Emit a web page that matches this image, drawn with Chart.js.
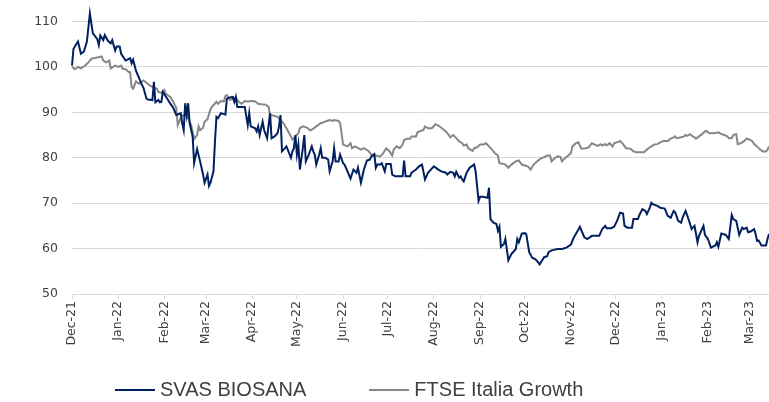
<!DOCTYPE html>
<html>
<head>
<meta charset="utf-8">
<script src="https://cdn.jsdelivr.net/npm/chart.js@4/dist/chart.umd.min.js"></script>
<style>
  body { margin: 0; background: #fff; }
  #wrap { position: relative; width: 769px; height: 402px; }
  #legend { position: absolute; left: 115px; top: 378px; display: flex; align-items: center;
            font-family: "Liberation Sans", Arial, sans-serif; font-size: 20px; color: #404040; }
  .item { display: flex; align-items: center; margin-right: 63px; }
  .swatch { display: inline-block; width: 40px; height: 2px; margin-right: 5px; }
</style>
</head>
<body>
<div id="wrap">
  <canvas id="perfChart" width="769" height="402"></canvas>
  <div id="legend"></div>
</div>
<script>
// month labels and their offset in days from 1 Dec 2021
var monthLabels = ["Dec-21", "Jan-22", "Feb-22", "Mar-22", "Apr-22", "May-22", "Jun-22", "Jul-22",
                   "Aug-22", "Sep-22", "Oct-22", "Nov-22", "Dec-22", "Jan-23", "Feb-23", "Mar-23"];
var monthDays = [0, 31, 62, 90, 121, 151, 182, 212, 243, 274, 304, 335, 365, 396, 427, 455];
var lastDay = 468;

// SVAS BIOSANA, rebased to 100
var bioDays = [0, 1, 4, 6, 8, 10, 12, 14, 17, 18, 19, 21, 22, 24, 26, 27, 29, 30, 32, 33, 36, 39, 40, 41, 43, 45, 47, 48, 50, 51,
  54, 55, 56, 58, 59, 60, 61, 64, 66, 68, 70, 73, 74, 75, 76, 77, 78, 79, 81, 82, 84, 86, 88, 89, 91, 92, 93, 95, 96, 97,
  98, 100, 102, 103, 104, 106, 108, 109, 110, 111, 116, 118, 119, 120, 123, 124, 125, 126, 128, 129, 131, 132, 133, 134, 136, 138, 139, 140, 141, 143,
  144, 147, 148, 149, 150, 151, 152, 153, 155, 156, 157, 159, 161, 162, 163, 164, 166, 167, 168, 170, 172, 173, 175, 176, 177, 179, 180, 182, 183, 185,
  187, 189, 191, 192, 194, 196, 198, 200, 201, 203, 204, 205, 207, 208, 210, 211, 214, 215, 217, 222, 223, 224, 227, 228, 231, 233, 235, 237, 239, 243,
  246, 248, 251, 252, 254, 256, 257, 258, 260, 261, 262, 263, 265, 267, 270, 271, 273, 274, 276, 279, 280, 281, 283, 285, 286, 287, 288, 290, 291, 293,
  295, 298, 299, 300, 302, 304, 305, 307, 309, 311, 313, 314, 317, 319, 320, 322, 326, 329, 332, 335, 337, 339, 341, 344, 346, 349, 354, 356, 358, 359,
  362, 364, 366, 368, 370, 371, 373, 376, 377, 380, 381, 383, 385, 386, 388, 389, 390, 393, 395, 398, 400, 402, 404, 405, 407, 409, 410, 412, 413, 415,
  416, 418, 419, 420, 421, 423, 424, 425, 427, 429, 432, 433, 434, 436, 439, 441, 443, 444, 446, 448, 450, 451, 453, 454, 456, 458, 459, 460, 461, 463,
  466, 467, 468];
var bioValues = [100.3, 104, 105.6, 102.9, 103.4, 105.6, 111.8, 107.4, 106.1, 104.8, 106.9, 105.9, 107, 105.8, 105.2, 105.9, 103.6, 104.5, 104.5, 102.9, 101.4, 101.9, 100.8, 101.6, 99.1, 97.6, 96, 95.4, 93, 92.8,
  92.7, 96.7, 92.2, 92.7, 92.2, 92.3, 94.5, 93, 91.9, 91, 89.4, 89.8, 87.6, 86.1, 92, 89.4, 92, 87.6, 84.7, 78.8, 81.9, 79.2, 76.3, 74.5, 76.3, 73.8, 74.5, 77, 83.6, 89,
  88.7, 89.8, 89.6, 89.5, 93, 93.3, 93.4, 92.3, 93.4, 91.2, 91.2, 87.2, 89.8, 86.9, 86.5, 85.8, 86.9, 85, 87.9, 86.1, 84.3, 87.2, 89.8, 84.3, 84.7, 85.4, 86.9, 89.4, 81.4, 82.1,
  82.5, 80, 81.4, 82.1, 85, 80.7, 82.9, 77.4, 82.1, 85, 79.2, 80.7, 82.5, 81.4, 80.7, 78.5, 80.7, 82.1, 80, 80, 79.6, 77, 79.2, 82.1, 79.2, 79.2, 80.7, 78.8, 78.5, 77,
  75.4, 77.4, 76.7, 77.8, 74.5, 77.4, 79.4, 79.6, 80.3, 80.8, 77.8, 78.5, 78.5, 78.8, 77, 78.6, 78.6, 76.3, 75.9, 75.9, 79.4, 75.9, 75.9, 76.7, 77.4, 78.1, 78.5, 75.2, 76.7, 78.1,
  77.4, 77, 76.7, 76.3, 76.9, 76.7, 75.9, 76.9, 75.6, 75.9, 75.2, 74.8, 76.7, 77.8, 78.5, 77, 70.5, 71.4, 71.4, 71.2, 73.4, 66.5, 65.7, 65.4, 63.9, 64.8, 60.4, 61, 62.1, 57.4,
  58.8, 59.9, 62.1, 61.4, 63.3, 63.4, 63.2, 59.2, 58, 57.7, 57, 56.5, 58.1, 58.3, 59.2, 59.6, 59.9, 59.9, 60.2, 60.9, 62.5, 63.6, 64.8, 62.5, 62.1, 62.8, 62.8, 64.3, 65, 64.5,
  64.5, 64.8, 66.1, 67.9, 67.7, 65, 64.6, 64.6, 66.5, 66.5, 67.4, 68.7, 68.3, 67.6, 69, 70.1, 69.8, 69.4, 69, 68.8, 67.2, 66.8, 68.3, 68, 66.1, 65.7, 66.8, 68.3, 67.4, 65.4,
  64.3, 65, 63.2, 61.4, 62.8, 64.3, 65, 63, 62.1, 60.2, 60.7, 61.4, 60.4, 63.3, 63, 62.1, 67.4, 66.5, 66.1, 63, 64.6, 64.3, 64.6, 63.6, 63.8, 64.3, 63.2, 61.7, 61.8, 60.7,
  60.7, 62.1, 63.2];

// FTSE Italia Growth, rebased to 100
var ftseDays = [0, 2, 4, 6, 9, 11, 13, 16, 20, 21, 23, 25, 26, 29, 31, 33, 34, 36, 38, 39, 40, 41, 43, 45, 48, 50, 52, 54, 57, 58,
  60, 62, 63, 66, 68, 70, 71, 73, 75, 77, 78, 80, 82, 84, 85, 86, 88, 89, 91, 93, 94, 97, 98, 100, 102, 103, 104, 106, 108, 110,
  112, 114, 116, 118, 121, 123, 125, 127, 130, 132, 133, 135, 138, 140, 142, 144, 147, 148, 150, 152, 153, 155, 158, 160, 162, 164, 167, 169, 171, 173,
  175, 176, 179, 180, 181, 182, 185, 187, 188, 190, 194, 196, 199, 201, 204, 207, 209, 211, 213, 215, 216, 218, 220, 222, 223, 225, 227, 228, 231, 232,
  234, 236, 237, 239, 241, 242, 244, 246, 248, 251, 253, 254, 256, 257, 260, 262, 263, 265, 266, 269, 270, 272, 274, 276, 278, 280, 282, 284, 286, 287,
  289, 291, 293, 295, 298, 300, 302, 304, 306, 308, 310, 312, 315, 317, 319, 321, 322, 324, 326, 328, 329, 331, 334, 335, 336, 338, 340, 342, 345, 347,
  349, 351, 353, 355, 356, 358, 359, 361, 363, 364, 366, 368, 370, 372, 375, 377, 379, 382, 384, 386, 388, 391, 393, 395, 397, 400, 402, 404, 405, 406,
  409, 411, 412, 413, 415, 416, 418, 419, 421, 423, 425, 426, 428, 430, 433, 434, 436, 438, 440, 441, 443, 444, 446, 447, 449, 451, 453, 455, 457, 458,
  460, 462, 464, 466, 467, 468];
var ftseValues = [100, 99.5, 100, 99.7, 100.3, 101, 101.8, 102, 102.3, 101.4, 101, 101.4, 99.7, 100.3, 100, 100.3, 99.6, 99.5, 98.9, 98.9, 95.6, 95.2, 96.8, 96.3, 97, 96.5, 96, 95.6, 95.2, 94.5,
  94.3, 94.9, 94.1, 93.4, 92.3, 91, 87.2, 88.8, 89.4, 89.4, 88.7, 87.2, 84.1, 85, 86.9, 86.1, 86.6, 87.9, 88.5, 90.7, 91.2, 92.3, 91.9, 92.5, 92.4, 93.6, 93.8, 92.7, 93, 93.2,
  92.3, 91.9, 92.5, 92.4, 92.5, 92.4, 91.9, 91.8, 91.7, 91.2, 89.4, 89.3, 89, 88.3, 87.6, 86.5, 84.7, 84, 84.7, 85.4, 86.5, 86.9, 86.6, 86, 86.4, 86.9, 87.6, 87.8, 88.1, 88.3,
  88.1, 88.3, 88.1, 87.6, 85.4, 82.9, 82.5, 83.2, 82.1, 82.5, 81.8, 82.1, 81.5, 80.7, 80.5, 80.3, 81, 82.1, 81.5, 80.5, 81.8, 82.5, 82.1, 82.9, 83.9, 84.2, 84.2, 84.7, 84.7, 85.6,
  85.9, 86.1, 86.9, 86.5, 86.5, 86.6, 87.4, 87.1, 86.6, 85.8, 85, 84.5, 85, 84.7, 83.6, 83.2, 82.7, 82.9, 82.1, 81.5, 82.1, 82.3, 82.9, 82.9, 83.2, 82.5, 81.8, 81, 80.5, 78.8,
  78.7, 78.5, 77.8, 78.5, 79.2, 79.4, 78.5, 78.3, 78.1, 77.4, 78.5, 79.1, 79.9, 80.1, 80.5, 80.5, 79.2, 79.9, 80.3, 80.2, 79.2, 79.9, 80.7, 81, 82.5, 83.1, 83.4, 82, 82.1, 82.3,
  83.2, 82.9, 82.6, 83, 82.7, 83, 82.7, 83.2, 82.5, 83.2, 83.4, 83.7, 83, 82.1, 82, 81.4, 81.2, 81.2, 81.2, 81.8, 82.3, 82.9, 83, 83.4, 83.7, 83.7, 84.2, 84.5, 84.7, 84.3,
  84.5, 84.7, 85, 84.8, 85.2, 84.9, 84.5, 84.2, 84.7, 85.2, 85.8, 85.9, 85.4, 85.4, 85.5, 85.6, 85.2, 85, 84.7, 84.3, 84.3, 85, 85.2, 83, 83.2, 83.6, 84.2, 84, 83.6, 83,
  82.5, 81.8, 81.4, 81.4, 81.8, 82.5];

var seriesNames = ["SVAS BIOSANA", "FTSE Italia Growth"];
var seriesColors = ["#002060", "#878787"];

function toPoints(days, values){
    var pts = [];
    for(var i = 0; i < days.length; i++){
        pts.push({x: days[i], y: values[i]});
    }
    return pts;
}

function CreateLegend(){
    var html = "";
    for(var i = 0; i < seriesNames.length; i++){
        html += "<div class='item'>";
        html += "<span class='swatch' style='background:" + seriesColors[i] + "'></span>";
        html += "<span>" + seriesNames[i] + "</span>";
        html += "</div>";
    }
    document.getElementById("legend").innerHTML = html;
}

Chart.defaults.font.family = "'DejaVu Sans', Verdana, sans-serif";
Chart.defaults.font.size = 12.5;
Chart.defaults.color = "#404040";

var ctx = document.getElementById("perfChart").getContext("2d");
var chart = new Chart(ctx, {
    type: "line",
    data: {
        datasets: [{
            label: seriesNames[0],
            data: toPoints(bioDays, bioValues),
            borderColor: seriesColors[0],
            borderWidth: 2,
            pointRadius: 0,
            clip: false
        }, {
            label: seriesNames[1],
            data: toPoints(ftseDays, ftseValues),
            borderColor: seriesColors[1],
            borderWidth: 2,
            pointRadius: 0,
            clip: false
        }]
    },
    options: {
        responsive: false,
        animation: false,
        layout: { padding: { top: 19, right: 0, left: 0, bottom: 0 } },
        plugins: { legend: { display: false }, tooltip: { enabled: false } },
        scales: {
            x: {
                type: "linear",
                min: 0,
                max: lastDay,
                afterBuildTicks: function(scale){
                    scale.ticks = monthDays.map(function(d){ return {value: d}; });
                },
                afterFit: function(scale){ scale.height = 108; },
                ticks: {
                    minRotation: 90,
                    maxRotation: 90,
                    padding: 2,
                    autoSkip: false,
                    callback: function(value){
                        var idx = monthDays.indexOf(value);
                        return idx >= 0 ? monthLabels[idx] : "";
                    }
                },
                grid: { drawOnChartArea: false, drawTicks: true, tickLength: 5, color: "#d9d9d9" },
                border: { display: true, color: "#d9d9d9" }
            },
            y: {
                min: 50,
                max: 110,
                afterFit: function(scale){ scale.width = 72; },
                ticks: { stepSize: 10, padding: 14 },
                grid: { drawTicks: false, color: "#d9d9d9" },
                border: { display: false }
            }
        }
    }
});

CreateLegend();
</script>
</body>
</html>
